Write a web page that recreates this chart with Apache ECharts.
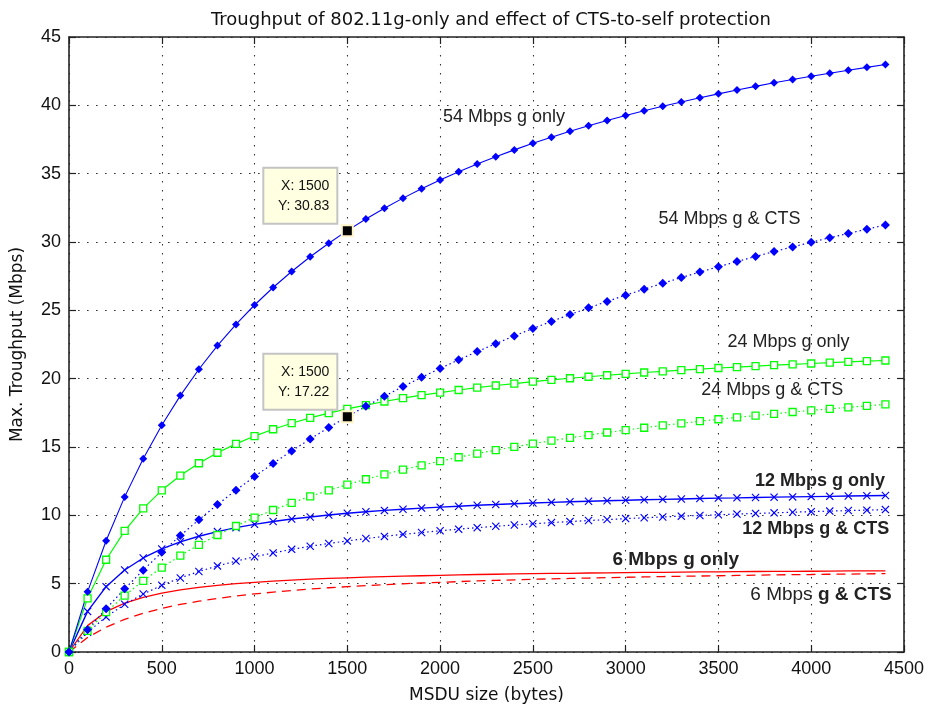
<!DOCTYPE html>
<html><head><meta charset="utf-8">
<script src="https://cdn.jsdelivr.net/npm/echarts@6/dist/echarts.min.js"></script>
<style>html,body{margin:0;padding:0;background:#fff}#c{width:927px;height:709px}</style>
</head><body><div id="c"></div>
<script>
// ---- data ----
const msdu = [0,100,200,300,400,500,600,700,800,900,1000,1100,1200,1300,1400,1500,1600,1700,1800,1900,2000,2100,2200,2300,2400,2500,2600,2700,2800,2900,3000,3100,3200,3300,3400,3500,3600,3700,3800,3900,4000,4100,4200,4300,4400];
const g54only = [0,4.40,8.14,11.35,14.14,16.59,18.76,20.69,22.42,23.97,25.39,26.67,27.84,28.92,29.91,30.83,31.68,32.47,33.21,33.89,34.54,35.14,35.70,36.24,36.74,37.22,37.67,38.10,38.50,38.89,39.25,39.60,39.93,40.25,40.55,40.84,41.12,41.39,41.65,41.89,42.13,42.35,42.57,42.78,42.99];
const g54cts = [0,1.63,3.17,4.62,5.99,7.29,8.52,9.68,10.79,11.84,12.84,13.80,14.71,15.59,16.42,17.22,17.98,18.72,19.42,20.10,20.75,21.38,21.98,22.56,23.13,23.67,24.19,24.69,25.18,25.65,26.11,26.55,26.98,27.40,27.80,28.19,28.57,28.94,29.30,29.64,29.98,30.31,30.63,30.94,31.25];
const g24only = [0,3.93,6.75,8.86,10.51,11.83,12.91,13.81,14.58,15.23,15.80,16.30,16.74,17.13,17.48,17.79,18.07,18.33,18.57,18.79,18.98,19.17,19.34,19.50,19.64,19.78,19.91,20.03,20.14,20.25,20.35,20.45,20.54,20.62,20.70,20.78,20.85,20.92,20.99,21.05,21.11,21.17,21.23,21.28,21.33];
const g24cts = [0,1.55,2.92,4.13,5.21,6.18,7.05,7.84,8.56,9.22,9.83,10.39,10.91,11.39,11.83,12.25,12.64,13.00,13.34,13.66,13.96,14.25,14.52,14.77,15.01,15.24,15.46,15.67,15.87,16.06,16.24,16.41,16.58,16.73,16.89,17.03,17.17,17.30,17.43,17.56,17.68,17.79,17.90,18.01,18.12];
const g12only = [0,2.97,4.78,6.00,6.88,7.54,8.06,8.47,8.81,9.10,9.34,9.55,9.73,9.88,10.02,10.15,10.26,10.36,10.45,10.53,10.60,10.67,10.74,10.79,10.85,10.90,10.95,10.99,11.03,11.07,11.10,11.14,11.17,11.20,11.23,11.26,11.28,11.31,11.33,11.35,11.37,11.39,11.41,11.43,11.45];
const g12cts = [0,1.44,2.57,3.49,4.24,4.88,5.42,5.89,6.30,6.65,6.97,7.25,7.51,7.74,7.94,8.13,8.30,8.46,8.61,8.74,8.87,8.99,9.10,9.20,9.29,9.38,9.47,9.54,9.62,9.69,9.76,9.82,9.88,9.94,9.99,10.04,10.09,10.14,10.18,10.23,10.27,10.31,10.35,10.38,10.42];
const g6only = [0,1.93,2.95,3.57,4.00,4.31,4.55,4.73,4.88,5.00,5.10,5.19,5.26,5.33,5.38,5.43,5.48,5.52,5.55,5.58,5.61,5.64,5.67,5.69,5.71,5.73,5.75,5.76,5.78,5.79,5.81,5.82,5.83,5.85,5.86,5.87,5.88,5.89,5.90,5.90,5.91,5.92,5.93,5.93,5.94];
const g6cts = [0,1.06,1.82,2.39,2.83,3.19,3.48,3.72,3.92,4.10,4.25,4.38,4.50,4.61,4.70,4.78,4.86,4.93,4.99,5.05,5.10,5.15,5.20,5.24,5.28,5.32,5.35,5.38,5.41,5.44,5.47,5.49,5.52,5.54,5.56,5.58,5.60,5.62,5.64,5.66,5.67,5.69,5.70,5.72,5.73];

const curveNames = ['54 Mbps g only','54 Mbps g & CTS','24 Mbps g only','24 Mbps g & CTS','12 Mbps g only','12 Mbps g & CTS','6 Mbps g only','6 Mbps g & CTS'];
// annotation anchors (data units)
const annX = [2344, 3560, 3878, 3790, 4047, 4025, 3270, 4053];
const annY = [39.15, 31.68, 22.70, 19.16, 12.50, 8.99, 6.77, 4.22];
// data tips
const tipX = [1500, 1500];
const tipY = [30.83, 17.22];

const xMin = 0, xMax = 4500, xStep = 500;
const yMin = 0, yMax = 45, yStep = 5;
const titleText = 'Troughput of 802.11g-only and effect of CTS-to-self protection';
const xName = 'MSDU size (bytes)';
const yName = 'Max. Troughput (Mbps)';

// ---- chart ----
const F = '"Liberation Sans", Arial, sans-serif';
const FW = '"DejaVu Sans", "Liberation Sans", sans-serif';
const BLUE = '#0000ff', GREEN = '#00ff00', RED = '#ff0000';
const XSYM = 'path://M0,1L1,0L5,4L9,0L10,1L6,5L10,9L9,10L5,6L1,10L0,9L4,5Z';
const DOT = [1.5, 3];

function pts(arr){ return msdu.map((x,i)=>[x, arr[i]]); }
function ser(name, arr, color, ltype, symbol, size, hollow, lw){
  return {
    name, type:'line', data: pts(arr), smooth:false,
    symbol: symbol || 'none', symbolSize: size || 0, showSymbol: !!symbol,
    lineStyle:{color, width: lw || 1, type: ltype},
    itemStyle: hollow ? {color:'#fff', borderColor:color, borderWidth:1.3} : {color, borderWidth:0},
    emphasis:{disabled:true}, animation:false, z: 2
  };
}

const chart = echarts.init(document.getElementById('c'), null, {renderer:'canvas'});
const axisCol = '#222';
const plain = v => String(v);
function xAx(pos, main){
  return {
    type:'value', position:pos, min:xMin, max:xMax, interval:xStep,
    axisLine:{show:true, onZero:false, lineStyle:{color:axisCol, width:1.6}},
    axisTick:{show:true, inside:true, length:7, lineStyle:{color:axisCol, width:1.2}},
    axisLabel:{show:main, fontFamily:F, fontSize:18, color:'#111', margin:8, formatter:plain},
    splitLine:{show:main, lineStyle:{color:'#333', type:[1.6,7.4], width:1.1}},
    name: main ? xName : '', nameLocation:'middle', nameGap:35,
    nameTextStyle:{fontFamily:FW, fontSize:17, color:'#111'}
  };
}
function yAx(pos, main){
  return {
    type:'value', position:pos, min:yMin, max:yMax, interval:yStep,
    axisLine:{show:true, onZero:false, lineStyle:{color:axisCol, width:1.6}},
    axisTick:{show:true, inside:true, length:7, lineStyle:{color:axisCol, width:1.2}},
    axisLabel:{show:main, fontFamily:F, fontSize:18, color:'#111', margin:8, formatter:plain},
    splitLine:{show:main, lineStyle:{color:'#333', type:[1.6,7.4], width:1.1}},
    name: main ? yName : '', nameLocation:'middle', nameGap:43, nameRotate:90,
    nameTextStyle:{fontFamily:FW, fontSize:17, color:'#111'}
  };
}

chart.setOption({
  backgroundColor:'#fff',
  animation:false,
  title:{text:titleText, left:486, top:6, textAlign:'center',
    textStyle:{fontFamily:FW, fontSize:18, fontWeight:'normal', color:'#111'}},
  grid:{left:69, right:23, top:37, bottom:56, containLabel:false},
  xAxis:[xAx('bottom', true), xAx('top', false)],
  yAxis:[yAx('left', true), yAx('right', false)],
  series:[
    ser(curveNames[6], g6only, RED, 'solid', null, 0, false, 1.3),
    ser(curveNames[7], g6cts, RED, [9,6], null, 0, false, 1.3),
    ser(curveNames[5], g12cts, BLUE, DOT, XSYM, 8, false, 1.2),
    ser(curveNames[4], g12only, BLUE, 'solid', XSYM, 8, false, 1.4),
    ser(curveNames[3], g24cts, GREEN, DOT, 'rect', 7, true, 1.2),
    ser(curveNames[2], g24only, GREEN, 'solid', 'rect', 7, true, 1.2),
    ser(curveNames[1], g54cts, BLUE, DOT, 'diamond', 9, false, 1.2),
    ser(curveNames[0], g54only, BLUE, 'solid', 'diamond', 8, false, 1.1)
  ]
});

// ---- annotations positioned from data coordinates ----
const g = [];
const bold = [false,false,false,false,true,true,true,false];
const sizes = [18,18,18,18,18,18,19,19];
curveNames.forEach((t,i)=>{
  const p = chart.convertToPixel({xAxisIndex:0, yAxisIndex:0}, [annX[i], annY[i]]);
  if (i === 7) {
    g.push({type:'text', x:p[0], y:p[1], z:20, style:{
      text:'{n|6 Mbps }{b|g & CTS}', align:'center', verticalAlign:'middle',
      rich:{n:{fontFamily:F, fontSize:19, fill:'#222'}, b:{fontFamily:F, fontSize:19, fontWeight:'bold', fill:'#222'}}
    }});
  } else {
    g.push({type:'text', x:p[0], y:p[1], z:20, style:{
      text:t, align:'center', verticalAlign:'middle', fontFamily:F, fontSize:sizes[i],
      fontWeight: bold[i] ? 'bold' : 'normal', fill:'#222'
    }});
  }
});
tipX.forEach((tx,i)=>{
  const p = chart.convertToPixel({xAxisIndex:0, yAxisIndex:0}, [tx, tipY[i]]);
  const L = p[0]-84, T = p[1]-63;
  g.push({type:'rect', z:30, shape:{x:L, y:T, width:74, height:56},
    style:{fill:'#ffffe1', stroke:'#c4c4c4', lineWidth:2}});
  g.push({type:'text', z:31, x:L+66, y:T+18, style:{text:'X: ' + tx, align:'right', verticalAlign:'middle', fontFamily:F, fontSize:14, fill:'#111'}});
  g.push({type:'text', z:31, x:L+66, y:T+38, style:{text:'Y: ' + tipY[i].toFixed(2), align:'right', verticalAlign:'middle', fontFamily:F, fontSize:14, fill:'#111'}});
  g.push({type:'rect', z:32, shape:{x:p[0]-5.5, y:p[1]-5.5, width:11, height:11},
    style:{fill:'#000', stroke:'#fff4c8', lineWidth:2}});
});
chart.setOption({graphic:g});
</script></body></html>
